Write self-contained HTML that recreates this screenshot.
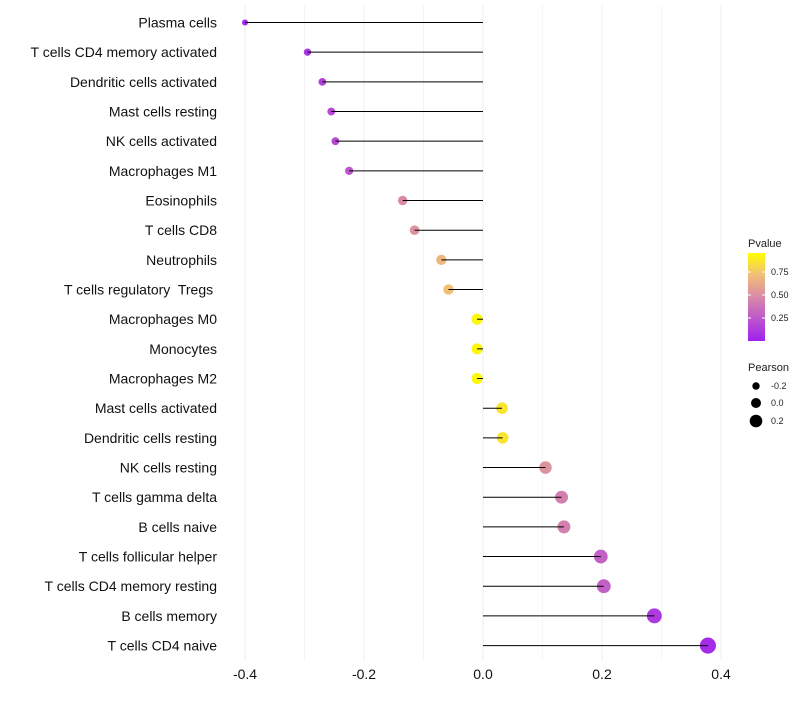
<!DOCTYPE html>
<html><head><meta charset="utf-8"><style>
body{margin:0;background:#fff;font-family:"Liberation Sans",sans-serif}
</style></head><body>
<svg id="c" width="800" height="700" xmlns="http://www.w3.org/2000/svg"></svg>
<script>
const categories=["Plasma cells","T cells CD4 memory activated","Dendritic cells activated","Mast cells resting","NK cells activated","Macrophages M1","Eosinophils","T cells CD8","Neutrophils","T cells regulatory  Tregs ","Macrophages M0","Monocytes","Macrophages M2","Mast cells activated","Dendritic cells resting","NK cells resting","T cells gamma delta","B cells naive","T cells follicular helper","T cells CD4 memory resting","B cells memory","T cells CD4 naive"];
const pearson=[-0.40,-0.295,-0.27,-0.255,-0.248,-0.225,-0.135,-0.115,-0.07,-0.058,-0.01,-0.01,-0.01,0.032,0.033,0.105,0.132,0.136,0.198,0.203,0.288,0.378];
const pvalue=[0.03,0.1,0.15,0.18,0.2,0.25,0.5,0.55,0.72,0.76,0.97,0.97,0.97,0.9,0.9,0.55,0.45,0.45,0.3,0.3,0.12,0.05];
const xTicks=[-0.4,-0.2,0,0.2,0.4];
const xMinor=[-0.3,-0.1,0.1,0.3];
const NS="http://www.w3.org/2000/svg",svg=document.getElementById('c');
const X=v=>483+v*595;
const Y=i=>22.5+i*29.67;
const R=v=>Math.max(1.5,5.6+6.5*v);
function col(p){const s=[[0,[160,32,240]],[0.5,[217,138,168]],[0.75,[240,190,120]],[1,[255,255,0]]];
for(let i=1;i<s.length;i++){if(p<=s[i][0]){const t=(p-s[i-1][0])/(s[i][0]-s[i-1][0]);const a=s[i-1][1],b=s[i][1];return `rgb(${a.map((c,k)=>Math.round(c+(b[k]-c)*t)).join(',')})`;}}return 'rgb(255,255,0)';}
function mk(t,a,p){const e=document.createElementNS(NS,t);for(const k in a)e.setAttribute(k,a[k]);(p||svg).appendChild(e);return e;}
xMinor.forEach(v=>{const l=mk('line',{x1:X(v),x2:X(v),y1:5,y2:660,stroke:'#f5f5f5','stroke-width':1});

});
xTicks.forEach(v=>{const l=mk('line',{x1:X(v),x2:X(v),y1:5,y2:660,stroke:'#ececec','stroke-width':1});


const t=mk('text',{x:X(v),y:679,'text-anchor':'middle','font-size':14,fill:'#111'});t.textContent=v===0?'0.0':v.toFixed(1);

});
categories.forEach((c,i)=>{
const t=mk('text',{x:217,y:Y(i)+5,'text-anchor':'end','font-size':14,fill:'#111','xml:space':'preserve'});t.style.whiteSpace='pre';t.textContent=c;


const d=mk('circle',{cx:X(pearson[i]),cy:Y(i),r:R(pearson[i]),fill:col(pvalue[i])});


const l=mk('line',{x1:X(0),x2:X(pearson[i]),y1:Y(i),y2:Y(i),stroke:'#000','stroke-width':1});


});
const g=mk('g',{});
const defs=mk('defs',{});const lg=mk('linearGradient',{id:'gr',x1:0,y1:1,x2:0,y2:0},defs);
[[0,'#a020f0'],[0.5,'#d98aa8'],[0.75,'#f0be78'],[1,'#ffff00']].forEach(s=>mk('stop',{offset:s[0],'stop-color':s[1]},lg));
let t=mk('text',{x:748,y:247,'font-size':11,fill:'#222'},g);t.textContent='Pvalue';
mk('rect',{x:748,y:253,width:17,height:88,fill:'url(#gr)'},g);
const PY=p=>341-p*92;
[[0.75,'0.75'],[0.5,'0.50'],[0.25,'0.25']].forEach(a=>{mk('line',{x1:748,x2:751,y1:PY(a[0]),y2:PY(a[0]),stroke:'#fff'},g);mk('line',{x1:762,x2:765,y1:PY(a[0]),y2:PY(a[0]),stroke:'#fff'},g);
const tt=mk('text',{x:771,y:PY(a[0])+3,'font-size':9,fill:'#222'},g);tt.textContent=a[1];});
t=mk('text',{x:748,y:371,'font-size':11,fill:'#222'},g);t.textContent='Pearson';
[[-0.2,'-0.2',386],[0,'0.0',403],[0.2,'0.2',421]].forEach(a=>{mk('circle',{cx:756,cy:a[2],r:R(a[0])-0.6,fill:'#000'},g);
const tt=mk('text',{x:771,y:a[2]+3,'font-size':9,fill:'#222'},g);tt.textContent=a[1];});
</script>
</body></html>
